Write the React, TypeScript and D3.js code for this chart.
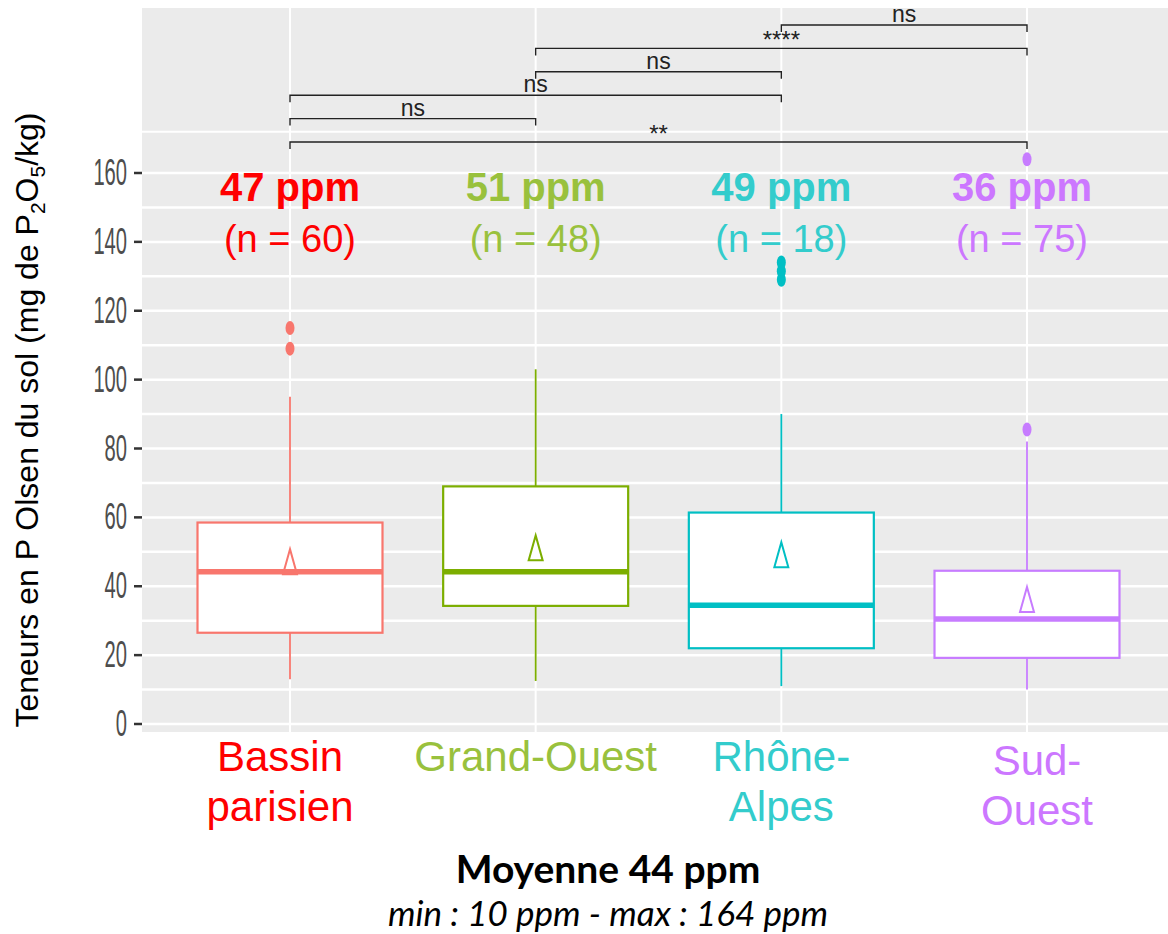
import React from "react";
import * as d3 from "d3";

const categories = ["Bassin parisien", "Grand-Ouest", "Rhône-Alpes", "Sud-Ouest"];
const labelLines = [["Bassin", "parisien"], ["Grand-Ouest"], ["Rhône-", "Alpes"], ["Sud-", "Ouest"]];
const boxColors = ["#F8766D", "#7CAE00", "#00BFC4", "#C77CFF"];
const textColors = ["#FF0000", "#99C13D", "#33CCCC", "#CC77FF"];
const meanPpm = [47, 51, 49, 36];
const counts = [60, 48, 18, 75];
const q1 = [26.5, 34.3, 22, 19.2];
const medians = [44.2, 44.2, 34.5, 30.5];
const q3 = [58.5, 69, 61.4, 44.5];
const whiskerLow = [13, 12.5, 11, 10];
const whiskerHigh = [95, 103, 90, 82];
const outliers = [[109, 115], [], [129, 131.5, 134], [85.5, 164]];
const yTicks = [0, 20, 40, 60, 80, 100, 120, 140, 160];
const gridValues = [0, 10, 20, 30, 40, 50, 60, 70, 80, 90, 100, 110, 120, 130, 140, 150, 160];
const comparisons = [
  { a: 0, b: 3, label: "**", level: 0 },
  { a: 0, b: 1, label: "ns", level: 1 },
  { a: 0, b: 2, label: "ns", level: 2 },
  { a: 1, b: 2, label: "ns", level: 3 },
  { a: 1, b: 3, label: "****", level: 4 },
  { a: 2, b: 3, label: "ns", level: 5 },
];

const W = 1168, H = 934;
const panel = { left: 142, right: 1168, top: 8, bottom: 732 };

export default function App() {
  const x = d3.scalePoint().domain(categories).range([290, 1027]);
  const y = d3.scaleLinear().domain([0, 160]).range([724, 173]);
  const level = d3.scaleLinear().domain([0, 5]).range([142, 25]);
  const boxW = 185;
  const sans = "'Liberation Sans', Arial, sans-serif";
  const calibri = "Lato, 'Open Sans', sans-serif";
  const topLine = y(172);
  const annX = (i: number) => x(categories[i])! + (i === 3 ? -5 : 0);
  const labX = (i: number) => x(categories[i])! + (i === 0 ? -10 : i === 3 ? 10 : 0);

  return (
    <div style={{ position: "absolute", left: 0, top: 0 }}>
      <svg width={W} height={H} style={{ display: "block" }}>
        <rect x={0} y={0} width={W} height={H} fill="#fff" />
        <rect x={panel.left} y={panel.top} width={panel.right - panel.left} height={panel.bottom - panel.top} fill="#EBEBEB" />
        {gridValues.map((v) => (
          <line key={"g" + v} x1={panel.left} x2={panel.right} y1={y(v)} y2={y(v)} stroke="#fff" strokeWidth={2.5} />
        ))}
        <line x1={panel.left} x2={panel.right} y1={topLine} y2={topLine} stroke="#fff" strokeWidth={2} />
        {categories.map((c) => (
          <line key={"v" + c} x1={x(c)} x2={x(c)} y1={panel.top} y2={panel.bottom} stroke="#fff" strokeWidth={2} />
        ))}
        {/* y axis ticks */}
        {yTicks.map((t) => (
          <g key={"t" + t}>
            <line x1={134} x2={142} y1={y(t)} y2={y(t)} stroke="#333" strokeWidth={2.5} />
            <text transform={`translate(127,${y(t) + 12}) scale(0.56,1)`} textAnchor="end" fontFamily={sans} fontSize={36} fill="#4D4D4D">
              {t}
            </text>
          </g>
        ))}
        {/* boxes */}
        {categories.map((c, i) => {
          const cx = x(c)!;
          const col = boxColors[i];
          return (
            <g key={"b" + c}>
              <line x1={cx} x2={cx} y1={y(whiskerHigh[i])} y2={y(q3[i])} stroke={col} strokeWidth={1.8} />
              <line x1={cx} x2={cx} y1={y(q1[i])} y2={y(whiskerLow[i])} stroke={col} strokeWidth={1.8} />
              <rect x={cx - boxW / 2} y={y(q3[i])} width={boxW} height={y(q1[i]) - y(q3[i])} fill="#fff" stroke={col} strokeWidth={2.2} />
              <line x1={cx - boxW / 2} x2={cx + boxW / 2} y1={y(medians[i])} y2={y(medians[i])} stroke={col} strokeWidth={5.5} />
              {outliers[i].map((o, j) => (
                <ellipse key={j} cx={cx} cy={y(o)} rx={4.5} ry={7} fill={col} />
              ))}
              <path
                d={`M${cx},${y(meanPpm[i]) - 13} L${cx + 7},${y(meanPpm[i]) + 12} L${cx - 7},${y(meanPpm[i]) + 12} Z`}
                fill="none"
                stroke={col}
                strokeWidth={2}
              />
            </g>
          );
        })}
        {/* comparisons */}
        {comparisons.map((cmp, k) => {
          const x1 = x(categories[cmp.a])!;
          const x2 = x(categories[cmp.b])!;
          const ly = level(cmp.level);
          const stars = cmp.label !== "ns";
          return (
            <g key={"c" + k}>
              <path d={`M${x1},${ly + 7} L${x1},${ly} L${x2},${ly} L${x2},${ly + 7}`} fill="none" stroke="#222" strokeWidth={1.4} />
              <text x={(x1 + x2) / 2} y={stars ? ly : ly - 3} textAnchor="middle" fontFamily={sans} fontSize={stars ? 24 : 23} fill="#222">
                {cmp.label}
              </text>
            </g>
          );
        })}
        {/* mean annotations */}
        {categories.map((c, i) => (
          <g key={"a" + c}>
            <text x={annX(i)} y={201} textAnchor="middle" fontFamily={sans} fontWeight="bold" fontSize={40} fill={textColors[i]}>
              {meanPpm[i]} ppm
            </text>
            <text x={annX(i)} y={252} textAnchor="middle" fontFamily={sans} fontSize={38} fill={textColors[i]}>
              (n = {counts[i]})
            </text>
          </g>
        ))}
        {/* x labels */}
        {categories.map((c, i) => (
          <text key={"x" + c} x={labX(i)} y={i === 3 ? 775 : 771} textAnchor="middle" fontFamily={sans} fontSize={42} fill={textColors[i]}>
            {labelLines[i].map((l, j) => (
              <tspan key={j} x={labX(i)} dy={j === 0 ? 0 : 50}>
                {l}
              </tspan>
            ))}
          </text>
        ))}
        {/* y label */}
        <text transform="translate(38,420) rotate(-90)" textAnchor="middle" fontFamily={sans} fontSize={32} fill="#000">
          Teneurs en P Olsen du sol (mg de P
          <tspan fontSize={21} dy={7}>2</tspan>
          <tspan dy={-7}>O</tspan>
          <tspan fontSize={21} dy={7}>5</tspan>
          <tspan dy={-7}>/kg)</tspan>
        </text>
        {/* footer */}
        <text x={608} y={883} textAnchor="middle" fontFamily={calibri} fontWeight="bold" fontSize={39} fill="#000">
          Moyenne 44 ppm
        </text>
        <text x={608} y={926} textAnchor="middle" fontFamily={calibri} fontStyle="italic" fontSize={35} fill="#000">
          min : 10 ppm - max : 164 ppm
        </text>
      </svg>
    </div>
  );
}
